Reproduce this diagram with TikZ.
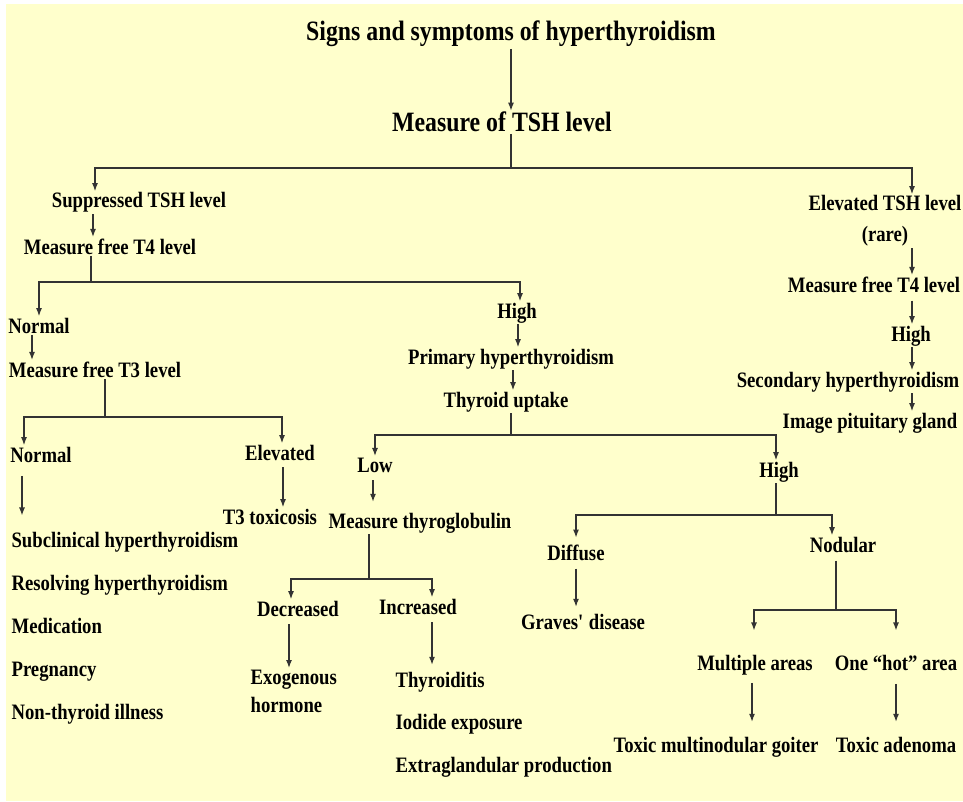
\documentclass[tikz,border=0pt]{standalone}
\usepackage{fontspec}
\setmainfont{Liberation Serif}[FakeStretch=0.85]
\usetikzlibrary{arrows.meta}
\definecolor{paleyellow}{HTML}{FFFFCC}
\tikzset{
  lbl/.style={font=\fontsize{16.5}{21}\selectfont\bfseries, inner sep=1pt, anchor=base},
  lst/.style={lbl, anchor=base west},
  ttl/.style={lbl, font=\fontsize{21}{25}\selectfont\bfseries},
  ln/.style={line width=0.9pt, draw=black!80},
  arr/.style={ln, -{Latex[length=6pt,width=4.5pt]}},
}

\begin{document}
\begin{tikzpicture}[x=0.75pt,y=-0.75pt]
\useasboundingbox (0,0) rectangle (963,802);
\fill[paleyellow] (6,4) rectangle (963,801);
\node[ttl] (a0) at (511,41) {Signs and symptoms of hyperthyroidism};
\node[ttl] (a1) at (502,132) {Measure of TSH level};
% suppressed TSH
\node[lbl] (a2) at (139,208) {Suppressed TSH level};
\node[lbl] (a3) at (110,254) {Measure free T4 level};
\node[lbl] (a4) at (39,333) {Normal};
\node[lbl] (a5) at (95,377) {Measure free T3 level};
\node[lbl] (a6) at (41,462) {Normal};
\node[lbl] (a7) at (280,460) {Elevated};
\node[lbl] (a8) at (270,524) {T3 toxicosis};
\node[lst] (a9) at (10,547) {Subclinical hyperthyroidism};
\node[lst] (a10) at (10,590) {Resolving hyperthyroidism};
\node[lst] (a11) at (10,633) {Medication};
\node[lst] (a12) at (10,676) {Pregnancy};
\node[lst] (a13) at (10,719) {Non-thyroid illness};
% high T4
\node[lbl] (a14) at (517,318) {High};
\node[lbl] (a15) at (511,364) {Primary hyperthyroidism};
\node[lbl] (a16) at (506,407) {Thyroid uptake};
\node[lbl] (a17) at (375,472) {Low};
\node[lbl] (a18) at (420,528) {Measure thyroglobulin};
\node[lbl] (a19) at (298,616) {Decreased};
\node[lbl] (a20) at (418,614) {Increased};
\node[lst,align=left] (a21) at (249,712) {Exogenous\\hormone};
\node[lst] (a22) at (394,687) {Thyroiditis};
\node[lst] (a23) at (394,729) {Iodide exposure};
\node[lst] (a24) at (394,772) {Extraglandular production};
\node[lbl] (a25) at (779,477) {High};
\node[lbl] (a26) at (576,560) {Diffuse};
\node[lbl] (a27) at (583,629) {Graves\textquotesingle{} disease};
\node[lbl] (a28) at (843,552) {Nodular};
\node[lbl] (a29) at (755,670) {Multiple areas};
\node[lbl] (a30) at (896,670) {One “hot” area};
\node[lbl] (a31) at (716,752) {Toxic multinodular goiter};
\node[lbl] (a32) at (896,752) {Toxic adenoma};
% elevated TSH
\node[lbl,align=center,font=\fontsize{16.5}{23.25}\selectfont\bfseries] (a33) at (885,242) {Elevated TSH level\\(rare)};
\node[lbl] (a34) at (874,292) {Measure free T4 level};
\node[lbl] (a35) at (911,341) {High};
\node[lbl] (a36) at (848,387) {Secondary hyperthyroidism};
\node[lbl] (a37) at (870,428) {Image pituitary gland};

\coordinate (b1) at (511,168);
\coordinate (b2) at (91,282);
\coordinate (b3) at (105,417);
\coordinate (b4) at (511,435);
\coordinate (b5) at (369,579);
\coordinate (b6) at (776,515);
\coordinate (b7) at (836,610);

\draw[arr] (a0.south) -- (a0.south |- a1.north);
\draw[ln] (a1.south -| b1) -- (b1);
\draw[arr] (b1) -| (95,0 |- a2.north);
\draw[arr] (b1) -| (912,0 |- a33.north);
\draw[arr] (93,0 |- a2.south) -- (93,0 |- a3.north);
\draw[ln] (91,0 |- a3.south) -- (b2);
\draw[arr] (b2) -| (39,0 |- a4.north);
\draw[arr] (b2) -| (520,0 |- a14.north);
\draw[arr] (32,0 |- a4.south) -- (32,0 |- a5.north);
\draw[ln] (105,0 |- a5.south) -- (b3);
\draw[arr] (b3) -| (24,0 |- a6.north);
\draw[arr] (b3) -| (282,0 |- a7.north);
\draw[arr,shorten <=9pt,shorten >=11pt] (22,0 |- a6.south) -- (22,0 |- a9.north);
\draw[arr,shorten <=4pt] (283,0 |- a7.south) -- (283,0 |- a8.north);

\draw[arr] (518,0 |- a14.south) -- (518,0 |- a15.north);
\draw[arr] (513,0 |- a15.south) -- (513,0 |- a16.north);
\draw[ln] (511,0 |- a16.south) -- (b4);
\draw[arr] (b4) -| (375,0 |- a17.north);
\draw[arr] (b4) -| (776,0 |- a25.north);
\draw[arr,shorten <=5pt,shorten >=7pt] (373,0 |- a17.south) -- (373,0 |- a18.north);
\draw[ln] (369,0 |- a18.south) -- (b5);
\draw[arr] (b5) -| (291,0 |- a19.north);
\draw[arr] (b5) -| (432,0 |- a20.north);
\draw[arr,shorten <=5pt] (289,0 |- a19.south) -- (289,0 |- a21.north);
\draw[arr,shorten <=5pt,shorten >=4pt] (432,0 |- a20.south) -- (432,0 |- a22.north);

\draw[ln] (776,0 |- a25.south) -- (b6);
\draw[arr,shorten >=4pt] (b6) -| (576,0 |- a26.north);
\draw[arr] (b6) -| (832,0 |- a28.north);
\draw[arr,shorten <=5pt,shorten >=4pt] (576,0 |- a26.south) -- (576,0 |- a27.north);
\draw[ln,shorten <=5pt] (836,0 |- a28.south) -- (b7);
\draw[arr,shorten >=17pt] (b7) -| (754,0 |- a29.north);
\draw[arr,shorten >=17pt] (b7) -| (896,0 |- a30.north);
\draw[arr,shorten <=5pt,shorten >=10pt] (752,0 |- a29.south) -- (752,0 |- a31.north);
\draw[arr,shorten <=9pt,shorten >=10pt] (896,0 |- a30.south) -- (896,0 |- a32.north);

\draw[arr] (912,0 |- a33.south) -- (912,0 |- a34.north);
\draw[arr,shorten <=5pt] (912,0 |- a34.south) -- (912,0 |- a35.north);
\draw[arr] (912,0 |- a35.south) -- (912,0 |- a36.north);
\draw[arr] (912,0 |- a36.south) -- (912,0 |- a37.north);
\end{tikzpicture}
\end{document}
